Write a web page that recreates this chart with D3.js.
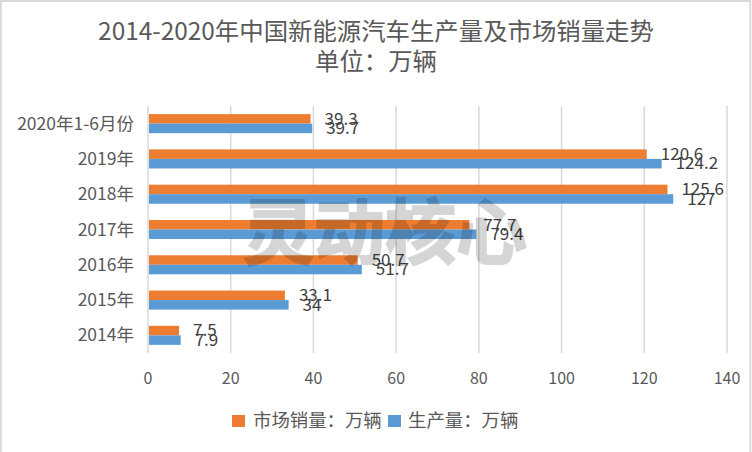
<!DOCTYPE html>
<html><head><meta charset="utf-8">
<script src="https://cdn.jsdelivr.net/npm/d3@7"></script>
<style>html,body{margin:0;padding:0;background:#fff}svg{display:block}
text{font-family:"Noto Sans CJK SC","Open Sans",sans-serif}</style></head>
<body><div id="c"></div>
<script>
const categories=["2020年1-6月份","2019年","2018年","2017年","2016年","2015年","2014年"];
const sales=[39.3,120.6,125.6,77.7,50.7,33.1,7.5];
const production=[39.7,124.2,127,79.4,51.7,34,7.9];
const ticks=[0,20,40,60,80,100,120,140];
const titleLines=["2014-2020年中国新能源汽车生产量及市场销量走势","单位：万辆"];
const legendNames=["市场销量：万辆","生产量：万辆"];
const watermark="灵动核心";
const W=752,H=452,ORANGE="#ED7D31",BLUE="#5B9BD5",TXT="#595959";
const svg=d3.select("#c").append("svg").attr("width",W).attr("height",H);
svg.append("rect").attr("x",.75).attr("y",1).attr("width",W-2.5).attr("height",H+4).attr("fill","#fff").attr("stroke","#d9d9d9").attr("stroke-width",2);
const x=d3.scaleLinear().domain([0,140]).range([148,727]);
const y=d3.scaleBand().domain(categories).range([106,353]).paddingInner(.46).paddingOuter(.23);
svg.append("g").selectAll("line").data(ticks).join("line").attr("x1",d=>x(d)).attr("x2",d=>x(d)).attr("y1",106).attr("y2",353).attr("stroke","#d9d9d9").attr("stroke-width",1.5);
const bh=y.bandwidth()/2;
svg.append("g").selectAll("rect").data(categories).join("rect").attr("x",x(0)+1).attr("y",c=>y(c)).attr("height",bh).attr("width",(c,i)=>x(sales[i])-x(0)-1).attr("fill",ORANGE);
svg.append("g").selectAll("rect").data(categories).join("rect").attr("x",x(0)+1).attr("y",c=>y(c)+bh).attr("height",bh).attr("width",(c,i)=>x(production[i])-x(0)-1).attr("fill",BLUE);
svg.append("g").selectAll("text").data(categories).join("text").attr("x",134).attr("y",c=>y(c)+bh+6).attr("text-anchor","end").attr("font-size",17.5).attr("fill",TXT).text(c=>c);
svg.append("g").selectAll("text").data(ticks).join("text").attr("x",d=>x(d)).attr("y",384).attr("text-anchor","middle").attr("font-size",16).attr("fill",TXT).text(d=>d);
const lab=(vals,dy)=>svg.append("g").selectAll("text").data(vals).join("text").attr("x",v=>x(v)+14).attr("y",(v,i)=>y(categories[i])+bh+dy).attr("font-size",17).attr("fill","#404040").text(v=>v);
lab(sales,1);lab(production,10.5);
svg.append("text").attr("x",385).attr("y",258).attr("text-anchor","middle").attr("font-size",71).attr("font-weight",700).attr("fill","#000").attr("stroke","#000").attr("stroke-width",2).attr("opacity",.16).text(watermark);
svg.append("g").selectAll("text").data(titleLines).join("text").attr("x",376).attr("y",(d,i)=>40+i*30).attr("text-anchor","middle").attr("font-size",24.4).attr("fill",TXT).text(d=>d);
const lg=[[232,ORANGE,253],[388,BLUE,408]];
lg.forEach((l,i)=>{svg.append("rect").attr("x",l[0]).attr("y",415).attr("width",13).attr("height",12).attr("fill",l[1]);
svg.append("text").attr("x",l[2]).attr("y",427).attr("font-size",18.4).attr("fill",TXT).text(legendNames[i]);});
</script></body></html>
